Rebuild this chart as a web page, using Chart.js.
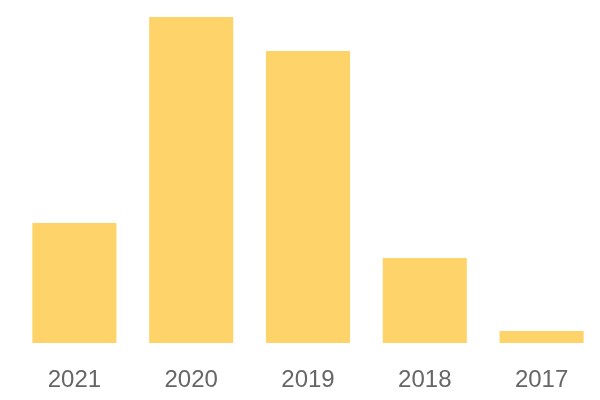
<!DOCTYPE html>
<html>
<head>
<meta charset="utf-8">
<script src="https://cdn.jsdelivr.net/npm/chart.js@4"></script>
<style>
  html, body { margin: 0; padding: 0; background: #fff; }
  #wrap { width: 600px; height: 400px; }
</style>
</head>
<body>
<div id="wrap"><canvas id="chart"></canvas></div>
<script>
// Years along the x axis
const years = ['2021', '2020', '2019', '2018', '2017'];
// Bar values (no axis shown)
const counts = [120, 326, 292, 85, 12];

const ctx = document.getElementById('chart');

new Chart(ctx, {
	type: 'bar',
	data: {
		labels: years,
		datasets: [
			{
				data: counts,
				backgroundColor: '#fed46a',
				borderWidth: 0,
				categoryPercentage: 0.72,
				barPercentage: 1
			}
		]
	},
	options: {
		responsive: true,
		maintainAspectRatio: false,
		animation: false,
		layout: { padding: { top: 17, left: 16, right: 0, bottom: 0 } },
		plugins: { legend: { display: false }, tooltip: { enabled: false } },
		scales: {
			x: {
				grid: { display: false },
				border: { display: false },
				ticks: {
					color: '#666',
					padding: 15,
					font: { family: '"Liberation Sans", Arial, sans-serif', size: 24 }
				},
				// fixed axis height so the bars end at the same baseline
				afterFit: (scale) => { scale.height = 57; }
			},
			y: {
				display: false,
				min: 0,
				max: 326
			}
		}
	}
});
</script>
</body>
</html>
